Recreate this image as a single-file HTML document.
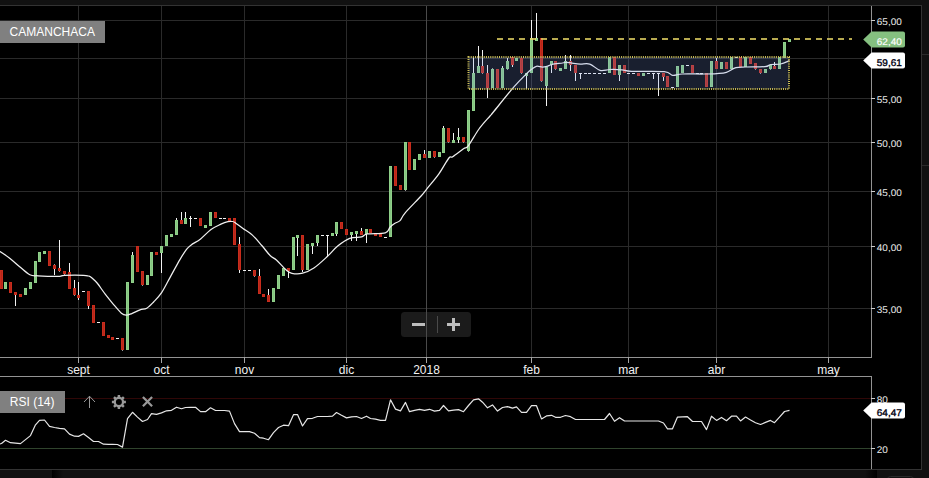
<!DOCTYPE html>
<html><head><meta charset="utf-8"><title>CAMANCHACA</title>
<style>
html,body{margin:0;padding:0;background:#000;}
body{width:929px;height:478px;overflow:hidden;font-family:"Liberation Sans",sans-serif;}
svg{display:block;}
text{font-family:"Liberation Sans",sans-serif;}
</style></head><body>
<svg width="929" height="478" viewBox="0 0 929 478">
<defs>
<linearGradient id="sh1" x1="0" x2="1" y1="0" y2="0"><stop offset="0" stop-color="#000"/><stop offset="1" stop-color="#111"/></linearGradient>
<linearGradient id="sh2" x1="0" x2="1" y1="0" y2="0"><stop offset="0" stop-color="#111"/><stop offset="1" stop-color="#000"/></linearGradient>
</defs>
<rect x="0" y="0" width="929" height="478" fill="#000"/>

<g shape-rendering="crispEdges">
<rect x="0" y="0" width="929" height="5" fill="#111"/>
<rect x="922" y="0" width="7" height="478" fill="#111"/>
<rect x="0" y="470" width="929" height="8" fill="#111"/>
<rect x="52" y="470" width="11" height="8" fill="url(#sh1)"/>
<rect x="865" y="470" width="12" height="8" fill="url(#sh2)"/>
<rect x="0" y="5" width="922" height="1" fill="#333"/>
<rect x="921" y="5" width="1" height="465" fill="#333"/>
<rect x="0" y="469" width="922" height="1" fill="#333"/>
<rect x="922" y="54" width="7" height="1" fill="#2a2a2a"/>
<rect x="922" y="165" width="7" height="1" fill="#2a2a2a"/>
</g>
<rect x="401" y="312" width="70" height="25" rx="3.5" fill="#1b1b1b"/>
<g shape-rendering="crispEdges">
<rect x="0" y="20" width="871" height="1" fill="#2a2a2a"/>
<rect x="0" y="58" width="871" height="1" fill="#2a2a2a"/>
<rect x="0" y="98" width="871" height="1" fill="#2a2a2a"/>
<rect x="0" y="142" width="871" height="1" fill="#2a2a2a"/>
<rect x="0" y="191" width="871" height="1" fill="#2a2a2a"/>
<rect x="0" y="246" width="871" height="1" fill="#2a2a2a"/>
<rect x="0" y="308" width="871" height="1" fill="#2a2a2a"/>
<rect x="78" y="6" width="1" height="351" fill="#2a2a2a"/>
<rect x="161" y="6" width="1" height="351" fill="#2a2a2a"/>
<rect x="244" y="6" width="1" height="351" fill="#2a2a2a"/>
<rect x="346" y="6" width="1" height="351" fill="#2a2a2a"/>
<rect x="426" y="6" width="1" height="351" fill="#4a4a4a"/>
<rect x="531" y="6" width="1" height="351" fill="#2a2a2a"/>
<rect x="628" y="6" width="1" height="351" fill="#2a2a2a"/>
<rect x="716" y="6" width="1" height="351" fill="#2a2a2a"/>
<rect x="828" y="6" width="1" height="351" fill="#2a2a2a"/>
<rect x="412" y="323" width="13" height="3" fill="#bdbdbd"/>
<rect x="437" y="316" width="1" height="17" fill="#4a4a4a"/>
<rect x="447" y="323" width="13" height="3" fill="#bdbdbd"/>
<rect x="452" y="318" width="3" height="13" fill="#bdbdbd"/>
<rect x="0" y="398" width="871" height="1" fill="#300707"/>
<rect x="0" y="448" width="871" height="1" fill="#30442d"/>
<rect x="0" y="270" width="3" height="19" fill="#c92c1c"/>
<rect x="1" y="271" width="1" height="17" fill="#b5271a"/>
<rect x="4" y="282" width="3" height="7" fill="#8fd089"/>
<rect x="5" y="283" width="1" height="5" fill="#84c380"/>
<rect x="9" y="282" width="3" height="11" fill="#c92c1c"/>
<rect x="10" y="283" width="1" height="9" fill="#b5271a"/>
<rect x="15" y="295" width="1" height="11" fill="#f2f2f2"/>
<rect x="14" y="292" width="3" height="3" fill="#c92c1c"/>
<rect x="15" y="293" width="1" height="1" fill="#b5271a"/>
<rect x="19" y="294" width="3" height="3" fill="#c92c1c"/>
<rect x="20" y="295" width="1" height="1" fill="#b5271a"/>
<rect x="24" y="288" width="3" height="7" fill="#8fd089"/>
<rect x="25" y="289" width="1" height="5" fill="#84c380"/>
<rect x="29" y="282" width="3" height="7" fill="#8fd089"/>
<rect x="30" y="283" width="1" height="5" fill="#84c380"/>
<rect x="34" y="261" width="3" height="22" fill="#8fd089"/>
<rect x="35" y="262" width="1" height="20" fill="#84c380"/>
<rect x="38" y="252" width="3" height="10" fill="#8fd089"/>
<rect x="39" y="253" width="1" height="8" fill="#84c380"/>
<rect x="43" y="251" width="3" height="3" fill="#8fd089"/>
<rect x="44" y="252" width="1" height="1" fill="#84c380"/>
<rect x="48" y="251" width="3" height="15" fill="#c92c1c"/>
<rect x="49" y="252" width="1" height="13" fill="#b5271a"/>
<rect x="54" y="264" width="1" height="1" fill="#9a9a9a"/>
<rect x="54" y="269" width="1" height="6" fill="#f2f2f2"/>
<rect x="53" y="265" width="3" height="4" fill="#c92c1c"/>
<rect x="54" y="266" width="1" height="2" fill="#b5271a"/>
<rect x="59" y="240" width="1" height="28" fill="#f2f2f2"/>
<rect x="59" y="271" width="1" height="1" fill="#9a9a9a"/>
<rect x="58" y="268" width="3" height="3" fill="#c92c1c"/>
<rect x="59" y="269" width="1" height="1" fill="#b5271a"/>
<rect x="64" y="274" width="1" height="1" fill="#9a9a9a"/>
<rect x="63" y="271" width="3" height="3" fill="#c92c1c"/>
<rect x="64" y="272" width="1" height="1" fill="#b5271a"/>
<rect x="69" y="263" width="1" height="9" fill="#f2f2f2"/>
<rect x="68" y="272" width="3" height="17" fill="#c92c1c"/>
<rect x="69" y="273" width="1" height="15" fill="#b5271a"/>
<rect x="74" y="280" width="1" height="8" fill="#f2f2f2"/>
<rect x="74" y="295" width="1" height="1" fill="#9a9a9a"/>
<rect x="73" y="288" width="3" height="7" fill="#c92c1c"/>
<rect x="74" y="289" width="1" height="5" fill="#b5271a"/>
<rect x="78" y="282" width="1" height="13" fill="#f2f2f2"/>
<rect x="78" y="298" width="1" height="2" fill="#f2f2f2"/>
<rect x="77" y="295" width="3" height="3" fill="#c92c1c"/>
<rect x="78" y="296" width="1" height="1" fill="#b5271a"/>
<rect x="82" y="291" width="3" height="1" fill="#f2f2f2"/>
<rect x="88" y="306" width="1" height="3" fill="#f2f2f2"/>
<rect x="87" y="291" width="3" height="15" fill="#c92c1c"/>
<rect x="88" y="292" width="1" height="13" fill="#b5271a"/>
<rect x="92" y="305" width="3" height="18" fill="#c92c1c"/>
<rect x="93" y="306" width="1" height="16" fill="#b5271a"/>
<rect x="97" y="322" width="3" height="1" fill="#f2f2f2"/>
<rect x="102" y="322" width="3" height="14" fill="#c92c1c"/>
<rect x="103" y="323" width="1" height="12" fill="#b5271a"/>
<rect x="107" y="335" width="3" height="3" fill="#c92c1c"/>
<rect x="108" y="336" width="1" height="1" fill="#b5271a"/>
<rect x="111" y="337" width="3" height="3" fill="#c92c1c"/>
<rect x="112" y="338" width="1" height="1" fill="#b5271a"/>
<rect x="116" y="338" width="3" height="1" fill="#f2f2f2"/>
<rect x="122" y="350" width="1" height="1" fill="#9a9a9a"/>
<rect x="121" y="338" width="3" height="12" fill="#c92c1c"/>
<rect x="122" y="339" width="1" height="10" fill="#b5271a"/>
<rect x="126" y="282" width="3" height="68" fill="#8fd089"/>
<rect x="127" y="283" width="1" height="66" fill="#84c380"/>
<rect x="132" y="252" width="1" height="3" fill="#f2f2f2"/>
<rect x="131" y="255" width="3" height="28" fill="#8fd089"/>
<rect x="132" y="256" width="1" height="26" fill="#84c380"/>
<rect x="136" y="246" width="3" height="26" fill="#c92c1c"/>
<rect x="137" y="247" width="1" height="24" fill="#b5271a"/>
<rect x="142" y="285" width="1" height="1" fill="#9a9a9a"/>
<rect x="141" y="271" width="3" height="14" fill="#c92c1c"/>
<rect x="142" y="272" width="1" height="12" fill="#b5271a"/>
<rect x="146" y="275" width="3" height="10" fill="#8fd089"/>
<rect x="147" y="276" width="1" height="8" fill="#84c380"/>
<rect x="150" y="252" width="3" height="24" fill="#8fd089"/>
<rect x="151" y="253" width="1" height="22" fill="#84c380"/>
<rect x="155" y="252" width="3" height="3" fill="#c92c1c"/>
<rect x="156" y="253" width="1" height="1" fill="#b5271a"/>
<rect x="161" y="253" width="1" height="20" fill="#f2f2f2"/>
<rect x="160" y="246" width="3" height="7" fill="#8fd089"/>
<rect x="161" y="247" width="1" height="5" fill="#84c380"/>
<rect x="165" y="235" width="3" height="11" fill="#8fd089"/>
<rect x="166" y="236" width="1" height="9" fill="#84c380"/>
<rect x="170" y="234" width="3" height="3" fill="#8fd089"/>
<rect x="171" y="235" width="1" height="1" fill="#84c380"/>
<rect x="176" y="218" width="1" height="2" fill="#f2f2f2"/>
<rect x="175" y="220" width="3" height="15" fill="#8fd089"/>
<rect x="176" y="221" width="1" height="13" fill="#84c380"/>
<rect x="181" y="212" width="1" height="8" fill="#f2f2f2"/>
<rect x="180" y="220" width="3" height="4" fill="#c92c1c"/>
<rect x="181" y="221" width="1" height="2" fill="#b5271a"/>
<rect x="185" y="212" width="1" height="6" fill="#f2f2f2"/>
<rect x="184" y="218" width="3" height="6" fill="#8fd089"/>
<rect x="185" y="219" width="1" height="4" fill="#84c380"/>
<rect x="190" y="216" width="1" height="11" fill="#f2f2f2"/>
<rect x="189" y="218" width="3" height="1" fill="#f2f2f2"/>
<rect x="194" y="218" width="3" height="1" fill="#f2f2f2"/>
<rect x="199" y="218" width="3" height="8" fill="#c92c1c"/>
<rect x="200" y="219" width="1" height="6" fill="#b5271a"/>
<rect x="204" y="225" width="3" height="3" fill="#8fd089"/>
<rect x="205" y="226" width="1" height="1" fill="#84c380"/>
<rect x="209" y="212" width="3" height="14" fill="#8fd089"/>
<rect x="210" y="213" width="1" height="12" fill="#84c380"/>
<rect x="214" y="212" width="3" height="6" fill="#c92c1c"/>
<rect x="215" y="213" width="1" height="4" fill="#b5271a"/>
<rect x="219" y="218" width="3" height="1" fill="#f2f2f2"/>
<rect x="223" y="218" width="3" height="1" fill="#f2f2f2"/>
<rect x="228" y="218" width="3" height="3" fill="#c92c1c"/>
<rect x="229" y="219" width="1" height="1" fill="#b5271a"/>
<rect x="233" y="218" width="3" height="27" fill="#c92c1c"/>
<rect x="234" y="219" width="1" height="25" fill="#b5271a"/>
<rect x="239" y="237" width="1" height="7" fill="#f2f2f2"/>
<rect x="239" y="270" width="1" height="3" fill="#f2f2f2"/>
<rect x="238" y="244" width="3" height="26" fill="#c92c1c"/>
<rect x="239" y="245" width="1" height="24" fill="#b5271a"/>
<rect x="243" y="270" width="3" height="1" fill="#f2f2f2"/>
<rect x="248" y="270" width="3" height="1" fill="#f2f2f2"/>
<rect x="254" y="276" width="1" height="1" fill="#9a9a9a"/>
<rect x="253" y="270" width="3" height="6" fill="#c92c1c"/>
<rect x="254" y="271" width="1" height="4" fill="#b5271a"/>
<rect x="259" y="269" width="1" height="7" fill="#f2f2f2"/>
<rect x="258" y="276" width="3" height="18" fill="#c92c1c"/>
<rect x="259" y="277" width="1" height="16" fill="#b5271a"/>
<rect x="262" y="294" width="3" height="3" fill="#c92c1c"/>
<rect x="263" y="295" width="1" height="1" fill="#b5271a"/>
<rect x="268" y="289" width="1" height="6" fill="#f2f2f2"/>
<rect x="267" y="295" width="3" height="7" fill="#c92c1c"/>
<rect x="268" y="296" width="1" height="5" fill="#b5271a"/>
<rect x="272" y="288" width="3" height="14" fill="#8fd089"/>
<rect x="273" y="289" width="1" height="12" fill="#84c380"/>
<rect x="277" y="275" width="3" height="14" fill="#8fd089"/>
<rect x="278" y="276" width="1" height="12" fill="#84c380"/>
<rect x="282" y="268" width="3" height="8" fill="#8fd089"/>
<rect x="283" y="269" width="1" height="6" fill="#84c380"/>
<rect x="288" y="271" width="1" height="7" fill="#f2f2f2"/>
<rect x="287" y="268" width="3" height="3" fill="#c92c1c"/>
<rect x="288" y="269" width="1" height="1" fill="#b5271a"/>
<rect x="292" y="237" width="3" height="33" fill="#8fd089"/>
<rect x="293" y="238" width="1" height="31" fill="#84c380"/>
<rect x="297" y="238" width="1" height="18" fill="#f2f2f2"/>
<rect x="296" y="235" width="3" height="3" fill="#8fd089"/>
<rect x="297" y="236" width="1" height="1" fill="#84c380"/>
<rect x="302" y="270" width="1" height="2" fill="#f2f2f2"/>
<rect x="301" y="235" width="3" height="35" fill="#c92c1c"/>
<rect x="302" y="236" width="1" height="33" fill="#b5271a"/>
<rect x="306" y="244" width="3" height="26" fill="#8fd089"/>
<rect x="307" y="245" width="1" height="24" fill="#84c380"/>
<rect x="312" y="246" width="1" height="8" fill="#f2f2f2"/>
<rect x="311" y="243" width="3" height="3" fill="#8fd089"/>
<rect x="312" y="244" width="1" height="1" fill="#84c380"/>
<rect x="317" y="243" width="1" height="3" fill="#f2f2f2"/>
<rect x="316" y="235" width="3" height="8" fill="#8fd089"/>
<rect x="317" y="236" width="1" height="6" fill="#84c380"/>
<rect x="321" y="235" width="3" height="1" fill="#f2f2f2"/>
<rect x="327" y="235" width="1" height="22" fill="#f2f2f2"/>
<rect x="326" y="235" width="3" height="1" fill="#f2f2f2"/>
<rect x="331" y="233" width="3" height="3" fill="#8fd089"/>
<rect x="332" y="234" width="1" height="1" fill="#84c380"/>
<rect x="336" y="234" width="1" height="2" fill="#f2f2f2"/>
<rect x="335" y="222" width="3" height="12" fill="#8fd089"/>
<rect x="336" y="223" width="1" height="10" fill="#84c380"/>
<rect x="340" y="222" width="3" height="7" fill="#c92c1c"/>
<rect x="341" y="223" width="1" height="5" fill="#b5271a"/>
<rect x="345" y="229" width="3" height="6" fill="#c92c1c"/>
<rect x="346" y="230" width="1" height="4" fill="#b5271a"/>
<rect x="351" y="235" width="1" height="6" fill="#f2f2f2"/>
<rect x="350" y="232" width="3" height="3" fill="#8fd089"/>
<rect x="351" y="233" width="1" height="1" fill="#84c380"/>
<rect x="356" y="234" width="1" height="7" fill="#f2f2f2"/>
<rect x="355" y="231" width="3" height="3" fill="#8fd089"/>
<rect x="356" y="232" width="1" height="1" fill="#84c380"/>
<rect x="361" y="228" width="1" height="3" fill="#f2f2f2"/>
<rect x="360" y="231" width="3" height="4" fill="#c92c1c"/>
<rect x="361" y="232" width="1" height="2" fill="#b5271a"/>
<rect x="366" y="234" width="1" height="9" fill="#f2f2f2"/>
<rect x="365" y="229" width="3" height="5" fill="#8fd089"/>
<rect x="366" y="230" width="1" height="3" fill="#84c380"/>
<rect x="369" y="229" width="3" height="4" fill="#c92c1c"/>
<rect x="370" y="230" width="1" height="2" fill="#b5271a"/>
<rect x="374" y="233" width="3" height="3" fill="#c92c1c"/>
<rect x="375" y="234" width="1" height="1" fill="#b5271a"/>
<rect x="379" y="234" width="3" height="3" fill="#c92c1c"/>
<rect x="380" y="235" width="1" height="1" fill="#b5271a"/>
<rect x="384" y="237" width="3" height="1" fill="#f2f2f2"/>
<rect x="389" y="166" width="3" height="71" fill="#8fd089"/>
<rect x="390" y="167" width="1" height="69" fill="#84c380"/>
<rect x="394" y="166" width="3" height="20" fill="#c92c1c"/>
<rect x="395" y="167" width="1" height="18" fill="#b5271a"/>
<rect x="399" y="185" width="3" height="5" fill="#c92c1c"/>
<rect x="400" y="186" width="1" height="3" fill="#b5271a"/>
<rect x="405" y="190" width="1" height="1" fill="#9a9a9a"/>
<rect x="404" y="142" width="3" height="48" fill="#8fd089"/>
<rect x="405" y="143" width="1" height="46" fill="#84c380"/>
<rect x="408" y="142" width="3" height="28" fill="#c92c1c"/>
<rect x="409" y="143" width="1" height="26" fill="#b5271a"/>
<rect x="413" y="159" width="3" height="11" fill="#8fd089"/>
<rect x="414" y="160" width="1" height="9" fill="#84c380"/>
<rect x="418" y="154" width="3" height="6" fill="#8fd089"/>
<rect x="419" y="155" width="1" height="4" fill="#84c380"/>
<rect x="424" y="150" width="1" height="4" fill="#f2f2f2"/>
<rect x="423" y="154" width="3" height="4" fill="#c92c1c"/>
<rect x="424" y="155" width="1" height="2" fill="#b5271a"/>
<rect x="428" y="151" width="3" height="7" fill="#8fd089"/>
<rect x="429" y="152" width="1" height="5" fill="#84c380"/>
<rect x="434" y="157" width="1" height="1" fill="#9a9a9a"/>
<rect x="433" y="151" width="3" height="6" fill="#c92c1c"/>
<rect x="434" y="152" width="1" height="4" fill="#b5271a"/>
<rect x="438" y="152" width="3" height="5" fill="#8fd089"/>
<rect x="439" y="153" width="1" height="3" fill="#84c380"/>
<rect x="443" y="126" width="1" height="2" fill="#f2f2f2"/>
<rect x="442" y="128" width="3" height="25" fill="#8fd089"/>
<rect x="443" y="129" width="1" height="23" fill="#84c380"/>
<rect x="448" y="142" width="1" height="1" fill="#9a9a9a"/>
<rect x="447" y="128" width="3" height="14" fill="#c92c1c"/>
<rect x="448" y="129" width="1" height="12" fill="#b5271a"/>
<rect x="453" y="133" width="1" height="7" fill="#f2f2f2"/>
<rect x="452" y="140" width="3" height="3" fill="#8fd089"/>
<rect x="453" y="141" width="1" height="1" fill="#84c380"/>
<rect x="458" y="128" width="1" height="9" fill="#f2f2f2"/>
<rect x="458" y="140" width="1" height="3" fill="#f2f2f2"/>
<rect x="457" y="137" width="3" height="3" fill="#8fd089"/>
<rect x="458" y="138" width="1" height="1" fill="#84c380"/>
<rect x="463" y="142" width="1" height="1" fill="#9a9a9a"/>
<rect x="462" y="137" width="3" height="5" fill="#c92c1c"/>
<rect x="463" y="138" width="1" height="3" fill="#b5271a"/>
<rect x="468" y="151" width="1" height="1" fill="#9a9a9a"/>
<rect x="467" y="110" width="3" height="41" fill="#8fd089"/>
<rect x="468" y="111" width="1" height="39" fill="#84c380"/>
<rect x="473" y="57" width="1" height="16" fill="#f2f2f2"/>
<rect x="472" y="73" width="3" height="38" fill="#8fd089"/>
<rect x="473" y="74" width="1" height="36" fill="#84c380"/>
<rect x="478" y="46" width="1" height="20" fill="#f2f2f2"/>
<rect x="477" y="66" width="3" height="7" fill="#8fd089"/>
<rect x="478" y="67" width="1" height="5" fill="#84c380"/>
<rect x="482" y="50" width="1" height="16" fill="#f2f2f2"/>
<rect x="482" y="73" width="1" height="1" fill="#9a9a9a"/>
<rect x="481" y="66" width="3" height="7" fill="#c92c1c"/>
<rect x="482" y="67" width="1" height="5" fill="#b5271a"/>
<rect x="487" y="65" width="1" height="8" fill="#f2f2f2"/>
<rect x="487" y="88" width="1" height="10" fill="#f2f2f2"/>
<rect x="486" y="73" width="3" height="15" fill="#c92c1c"/>
<rect x="487" y="74" width="1" height="13" fill="#b5271a"/>
<rect x="492" y="68" width="1" height="1" fill="#9a9a9a"/>
<rect x="491" y="69" width="3" height="19" fill="#8fd089"/>
<rect x="492" y="70" width="1" height="17" fill="#84c380"/>
<rect x="496" y="69" width="3" height="19" fill="#c92c1c"/>
<rect x="497" y="70" width="1" height="17" fill="#b5271a"/>
<rect x="502" y="66" width="1" height="2" fill="#f2f2f2"/>
<rect x="501" y="68" width="3" height="20" fill="#8fd089"/>
<rect x="502" y="69" width="1" height="18" fill="#84c380"/>
<rect x="507" y="58" width="1" height="3" fill="#f2f2f2"/>
<rect x="507" y="69" width="1" height="1" fill="#9a9a9a"/>
<rect x="506" y="61" width="3" height="8" fill="#8fd089"/>
<rect x="507" y="62" width="1" height="6" fill="#84c380"/>
<rect x="512" y="65" width="1" height="2" fill="#f2f2f2"/>
<rect x="511" y="57" width="3" height="8" fill="#c92c1c"/>
<rect x="512" y="58" width="1" height="6" fill="#b5271a"/>
<rect x="515" y="58" width="3" height="3" fill="#8fd089"/>
<rect x="516" y="59" width="1" height="1" fill="#84c380"/>
<rect x="521" y="73" width="1" height="1" fill="#9a9a9a"/>
<rect x="520" y="58" width="3" height="15" fill="#c92c1c"/>
<rect x="521" y="59" width="1" height="13" fill="#b5271a"/>
<rect x="526" y="76" width="1" height="13" fill="#f2f2f2"/>
<rect x="525" y="73" width="3" height="3" fill="#8fd089"/>
<rect x="526" y="74" width="1" height="1" fill="#84c380"/>
<rect x="531" y="20" width="1" height="18" fill="#f2f2f2"/>
<rect x="530" y="38" width="3" height="35" fill="#8fd089"/>
<rect x="531" y="39" width="1" height="33" fill="#84c380"/>
<rect x="536" y="13" width="1" height="25" fill="#f2f2f2"/>
<rect x="535" y="38" width="3" height="3" fill="#8fd089"/>
<rect x="536" y="39" width="1" height="1" fill="#84c380"/>
<rect x="541" y="81" width="1" height="1" fill="#9a9a9a"/>
<rect x="540" y="38" width="3" height="43" fill="#c92c1c"/>
<rect x="541" y="39" width="1" height="41" fill="#b5271a"/>
<rect x="546" y="86" width="1" height="20" fill="#f2f2f2"/>
<rect x="545" y="67" width="3" height="19" fill="#8fd089"/>
<rect x="546" y="68" width="1" height="17" fill="#84c380"/>
<rect x="551" y="65" width="1" height="8" fill="#f2f2f2"/>
<rect x="550" y="61" width="3" height="4" fill="#8fd089"/>
<rect x="551" y="62" width="1" height="2" fill="#84c380"/>
<rect x="555" y="69" width="1" height="1" fill="#9a9a9a"/>
<rect x="554" y="61" width="3" height="8" fill="#c92c1c"/>
<rect x="555" y="62" width="1" height="6" fill="#b5271a"/>
<rect x="559" y="68" width="3" height="3" fill="#8fd089"/>
<rect x="560" y="69" width="1" height="1" fill="#84c380"/>
<rect x="565" y="55" width="1" height="6" fill="#f2f2f2"/>
<rect x="564" y="61" width="3" height="8" fill="#8fd089"/>
<rect x="565" y="62" width="1" height="6" fill="#84c380"/>
<rect x="570" y="55" width="1" height="6" fill="#f2f2f2"/>
<rect x="570" y="65" width="1" height="6" fill="#f2f2f2"/>
<rect x="569" y="61" width="3" height="4" fill="#c92c1c"/>
<rect x="570" y="62" width="1" height="2" fill="#b5271a"/>
<rect x="575" y="73" width="1" height="8" fill="#f2f2f2"/>
<rect x="574" y="65" width="3" height="8" fill="#c92c1c"/>
<rect x="575" y="66" width="1" height="6" fill="#b5271a"/>
<rect x="580" y="73" width="1" height="6" fill="#f2f2f2"/>
<rect x="579" y="73" width="3" height="1" fill="#f2f2f2"/>
<rect x="584" y="73" width="3" height="1" fill="#f2f2f2"/>
<rect x="588" y="73" width="3" height="1" fill="#f2f2f2"/>
<rect x="593" y="73" width="3" height="1" fill="#f2f2f2"/>
<rect x="598" y="73" width="3" height="1" fill="#f2f2f2"/>
<rect x="603" y="73" width="3" height="1" fill="#f2f2f2"/>
<rect x="608" y="57" width="3" height="16" fill="#8fd089"/>
<rect x="609" y="58" width="1" height="14" fill="#84c380"/>
<rect x="613" y="57" width="3" height="18" fill="#c92c1c"/>
<rect x="614" y="58" width="1" height="16" fill="#b5271a"/>
<rect x="619" y="75" width="1" height="6" fill="#f2f2f2"/>
<rect x="618" y="65" width="3" height="10" fill="#8fd089"/>
<rect x="619" y="66" width="1" height="8" fill="#84c380"/>
<rect x="623" y="65" width="3" height="8" fill="#c92c1c"/>
<rect x="624" y="66" width="1" height="6" fill="#b5271a"/>
<rect x="627" y="73" width="3" height="1" fill="#f2f2f2"/>
<rect x="632" y="73" width="3" height="1" fill="#f2f2f2"/>
<rect x="637" y="73" width="3" height="3" fill="#c92c1c"/>
<rect x="638" y="74" width="1" height="1" fill="#b5271a"/>
<rect x="642" y="73" width="3" height="3" fill="#8fd089"/>
<rect x="643" y="74" width="1" height="1" fill="#84c380"/>
<rect x="647" y="73" width="3" height="1" fill="#f2f2f2"/>
<rect x="653" y="73" width="1" height="6" fill="#f2f2f2"/>
<rect x="652" y="73" width="3" height="1" fill="#f2f2f2"/>
<rect x="658" y="73" width="1" height="23" fill="#f2f2f2"/>
<rect x="657" y="73" width="3" height="1" fill="#f2f2f2"/>
<rect x="663" y="77" width="1" height="4" fill="#f2f2f2"/>
<rect x="662" y="73" width="3" height="4" fill="#c92c1c"/>
<rect x="663" y="74" width="1" height="2" fill="#b5271a"/>
<rect x="666" y="76" width="3" height="11" fill="#c92c1c"/>
<rect x="667" y="77" width="1" height="9" fill="#b5271a"/>
<rect x="671" y="87" width="3" height="1" fill="#f2f2f2"/>
<rect x="676" y="66" width="3" height="21" fill="#8fd089"/>
<rect x="677" y="67" width="1" height="19" fill="#84c380"/>
<rect x="681" y="65" width="3" height="8" fill="#8fd089"/>
<rect x="682" y="66" width="1" height="6" fill="#84c380"/>
<rect x="686" y="65" width="3" height="1" fill="#f2f2f2"/>
<rect x="691" y="65" width="3" height="8" fill="#c92c1c"/>
<rect x="692" y="66" width="1" height="6" fill="#b5271a"/>
<rect x="696" y="73" width="3" height="1" fill="#f2f2f2"/>
<rect x="700" y="73" width="3" height="1" fill="#f2f2f2"/>
<rect x="705" y="73" width="3" height="14" fill="#c92c1c"/>
<rect x="706" y="74" width="1" height="12" fill="#b5271a"/>
<rect x="710" y="61" width="3" height="26" fill="#8fd089"/>
<rect x="711" y="62" width="1" height="24" fill="#84c380"/>
<rect x="716" y="58" width="1" height="3" fill="#f2f2f2"/>
<rect x="715" y="61" width="3" height="8" fill="#c92c1c"/>
<rect x="716" y="62" width="1" height="6" fill="#b5271a"/>
<rect x="720" y="62" width="3" height="7" fill="#8fd089"/>
<rect x="721" y="63" width="1" height="5" fill="#84c380"/>
<rect x="725" y="62" width="3" height="7" fill="#c92c1c"/>
<rect x="726" y="63" width="1" height="5" fill="#b5271a"/>
<rect x="730" y="57" width="3" height="12" fill="#8fd089"/>
<rect x="731" y="58" width="1" height="10" fill="#84c380"/>
<rect x="735" y="57" width="3" height="1" fill="#f2f2f2"/>
<rect x="739" y="57" width="3" height="10" fill="#c92c1c"/>
<rect x="740" y="58" width="1" height="8" fill="#b5271a"/>
<rect x="744" y="57" width="3" height="10" fill="#8fd089"/>
<rect x="745" y="58" width="1" height="8" fill="#84c380"/>
<rect x="749" y="57" width="3" height="7" fill="#c92c1c"/>
<rect x="750" y="58" width="1" height="5" fill="#b5271a"/>
<rect x="755" y="69" width="1" height="1" fill="#9a9a9a"/>
<rect x="754" y="63" width="3" height="6" fill="#c92c1c"/>
<rect x="755" y="64" width="1" height="4" fill="#b5271a"/>
<rect x="760" y="73" width="1" height="1" fill="#9a9a9a"/>
<rect x="759" y="69" width="3" height="4" fill="#c92c1c"/>
<rect x="760" y="70" width="1" height="2" fill="#b5271a"/>
<rect x="764" y="69" width="3" height="4" fill="#8fd089"/>
<rect x="765" y="70" width="1" height="2" fill="#84c380"/>
<rect x="770" y="69" width="1" height="1" fill="#9a9a9a"/>
<rect x="769" y="65" width="3" height="4" fill="#8fd089"/>
<rect x="770" y="66" width="1" height="2" fill="#84c380"/>
<rect x="774" y="62" width="1" height="4" fill="#f2f2f2"/>
<rect x="773" y="66" width="3" height="3" fill="#c92c1c"/>
<rect x="774" y="67" width="1" height="1" fill="#b5271a"/>
<rect x="778" y="57" width="3" height="12" fill="#8fd089"/>
<rect x="779" y="58" width="1" height="10" fill="#84c380"/>
<rect x="783" y="42" width="3" height="16" fill="#8fd089"/>
<rect x="784" y="43" width="1" height="14" fill="#84c380"/>
<rect x="788" y="39" width="3" height="3" fill="#8fd089"/>
<rect x="789" y="40" width="1" height="1" fill="#84c380"/>
</g>
<path d="M-4.00,248.50 C-3.33,249.00 -2.33,249.83 0.00,251.50 C2.33,253.17 6.67,255.92 10.00,258.50 C13.33,261.08 16.70,264.28 20.00,267.00 C23.30,269.72 26.80,273.33 29.80,274.80 C32.80,276.27 35.02,275.55 38.00,275.80 C40.98,276.05 44.08,276.22 47.70,276.30 C51.32,276.38 56.92,276.45 59.70,276.30 C62.48,276.15 60.43,275.57 64.40,275.40 C68.37,275.23 79.52,275.20 83.50,275.30 C87.48,275.40 87.15,275.77 88.30,276.00 C89.45,276.23 89.28,275.90 90.40,276.70 C91.52,277.50 93.75,279.58 95.00,280.80 C96.25,282.02 96.17,281.73 97.90,284.00 C99.63,286.27 102.88,291.10 105.40,294.40 C107.92,297.70 110.33,300.67 113.00,303.80 C115.67,306.93 119.22,311.30 121.40,313.20 C123.58,315.10 124.37,315.13 126.10,315.20 C127.83,315.27 129.48,314.50 131.80,313.60 C134.12,312.70 137.50,310.70 140.00,309.80 C142.50,308.90 144.53,309.50 146.80,308.20 C149.07,306.90 151.13,304.58 153.60,302.00 C156.07,299.42 158.78,296.93 161.60,292.70 C164.42,288.47 167.45,282.12 170.50,276.60 C173.55,271.08 177.23,264.15 179.90,259.60 C182.57,255.05 184.62,251.75 186.50,249.30 C188.38,246.85 188.85,246.63 191.20,244.90 C193.55,243.17 197.30,241.47 200.60,238.90 C203.90,236.33 207.70,231.92 211.00,229.50 C214.30,227.08 217.58,225.72 220.40,224.40 C223.22,223.08 225.87,222.08 227.90,221.60 C229.93,221.12 231.33,221.28 232.60,221.50 C233.87,221.72 233.77,221.73 235.50,222.90 C237.23,224.07 240.18,226.47 243.00,228.50 C245.82,230.53 249.27,232.27 252.40,235.10 C255.53,237.93 258.85,242.10 261.80,245.50 C264.75,248.90 267.67,253.08 270.10,255.50 C272.53,257.92 273.77,257.63 276.40,260.00 C279.03,262.37 283.32,267.48 285.90,269.70 C288.48,271.92 289.12,272.72 291.90,273.30 C294.68,273.88 298.93,274.08 302.60,273.20 C306.27,272.32 309.83,270.73 313.90,268.00 C317.97,265.27 323.03,260.47 327.00,256.80 C330.97,253.13 333.92,249.08 337.70,246.00 C341.48,242.92 345.72,239.82 349.70,238.30 C353.68,236.78 358.67,237.63 361.60,236.90 C364.53,236.17 363.35,234.58 367.30,233.90 C371.25,233.22 381.52,233.92 385.30,232.80 C389.08,231.68 388.45,228.75 390.00,227.20 C391.55,225.65 392.93,224.60 394.60,223.50 C396.27,222.40 398.23,222.38 400.00,220.60 C401.77,218.82 401.68,216.90 405.20,212.80 C408.72,208.70 417.55,199.92 421.10,196.00 C424.65,192.08 423.53,192.98 426.50,189.30 C429.47,185.62 435.17,179.12 438.90,173.90 C442.63,168.68 446.60,160.85 448.90,158.00 C451.20,155.15 450.27,158.33 452.70,156.80 C455.13,155.27 460.90,150.63 463.50,148.80 C466.10,146.97 465.72,149.10 468.30,145.80 C470.88,142.50 475.38,133.97 479.00,129.00 C482.62,124.03 487.60,118.83 490.00,116.00 C492.40,113.17 489.45,116.80 493.40,112.00 C497.35,107.20 508.13,93.62 513.70,87.20 C519.27,80.78 523.82,76.48 526.80,73.50 C529.78,70.52 530.00,70.50 531.60,69.30 C533.20,68.10 534.62,66.68 536.40,66.30 C538.18,65.92 540.53,67.00 542.30,67.00 C544.07,67.00 545.38,66.72 547.00,66.30 C548.62,65.88 549.40,65.05 552.00,64.50 C554.60,63.95 560.27,63.37 562.60,63.00 C564.93,62.63 564.43,62.27 566.00,62.30 C567.57,62.33 569.62,62.90 572.00,63.20 C574.38,63.50 577.33,63.95 580.30,64.10 C583.27,64.25 586.52,63.07 589.80,64.10 C593.08,65.13 596.63,69.40 600.00,70.30 C603.37,71.20 606.33,69.58 610.00,69.50 C613.67,69.42 618.40,69.50 622.00,69.80 C625.60,70.10 624.55,71.00 631.60,71.30 C638.65,71.60 657.45,70.92 664.30,71.60 C671.15,72.28 669.72,75.00 672.70,75.40 C675.68,75.80 677.03,74.23 682.20,74.00 C687.37,73.77 697.93,74.07 703.70,74.00 C709.47,73.93 713.02,73.87 716.80,73.60 C720.58,73.33 723.22,73.38 726.40,72.40 C729.58,71.42 732.72,68.60 735.90,67.70 C739.08,66.80 740.65,67.18 745.50,67.00 C750.35,66.82 760.75,67.02 765.00,66.60 C769.25,66.18 768.40,64.93 771.00,64.50 C773.60,64.07 777.52,64.65 780.60,64.00 C783.68,63.35 788.02,61.17 789.50,60.60" fill="none" stroke="#efefef" stroke-width="1.25" stroke-linejoin="round"/>
<g shape-rendering="crispEdges">
<rect x="497" y="38" width="6" height="2" fill="#e6d464" fill-opacity="0.8"/>
<rect x="508" y="38" width="6" height="2" fill="#e6d464" fill-opacity="0.8"/>
<rect x="519" y="38" width="6" height="2" fill="#e6d464" fill-opacity="0.8"/>
<rect x="530" y="38" width="6" height="2" fill="#e6d464" fill-opacity="0.8"/>
<rect x="541" y="38" width="6" height="2" fill="#e6d464" fill-opacity="0.8"/>
<rect x="552" y="38" width="6" height="2" fill="#e6d464" fill-opacity="0.8"/>
<rect x="563" y="38" width="6" height="2" fill="#e6d464" fill-opacity="0.8"/>
<rect x="574" y="38" width="6" height="2" fill="#e6d464" fill-opacity="0.8"/>
<rect x="585" y="38" width="6" height="2" fill="#e6d464" fill-opacity="0.8"/>
<rect x="596" y="38" width="6" height="2" fill="#e6d464" fill-opacity="0.8"/>
<rect x="607" y="38" width="6" height="2" fill="#e6d464" fill-opacity="0.8"/>
<rect x="618" y="38" width="6" height="2" fill="#e6d464" fill-opacity="0.8"/>
<rect x="629" y="38" width="6" height="2" fill="#e6d464" fill-opacity="0.8"/>
<rect x="640" y="38" width="6" height="2" fill="#e6d464" fill-opacity="0.8"/>
<rect x="651" y="38" width="6" height="2" fill="#e6d464" fill-opacity="0.8"/>
<rect x="662" y="38" width="6" height="2" fill="#e6d464" fill-opacity="0.8"/>
<rect x="673" y="38" width="6" height="2" fill="#e6d464" fill-opacity="0.8"/>
<rect x="684" y="38" width="6" height="2" fill="#e6d464" fill-opacity="0.8"/>
<rect x="695" y="38" width="6" height="2" fill="#e6d464" fill-opacity="0.8"/>
<rect x="706" y="38" width="6" height="2" fill="#e6d464" fill-opacity="0.8"/>
<rect x="717" y="38" width="6" height="2" fill="#e6d464" fill-opacity="0.8"/>
<rect x="728" y="38" width="6" height="2" fill="#e6d464" fill-opacity="0.8"/>
<rect x="739" y="38" width="6" height="2" fill="#e6d464" fill-opacity="0.8"/>
<rect x="750" y="38" width="6" height="2" fill="#e6d464" fill-opacity="0.8"/>
<rect x="761" y="38" width="6" height="2" fill="#e6d464" fill-opacity="0.8"/>
<rect x="772" y="38" width="6" height="2" fill="#e6d464" fill-opacity="0.8"/>
<rect x="783" y="38" width="6" height="2" fill="#e6d464" fill-opacity="0.8"/>
<rect x="794" y="38" width="6" height="2" fill="#e6d464" fill-opacity="0.8"/>
<rect x="805" y="38" width="6" height="2" fill="#e6d464" fill-opacity="0.8"/>
<rect x="816" y="38" width="6" height="2" fill="#e6d464" fill-opacity="0.8"/>
<rect x="827" y="38" width="6" height="2" fill="#e6d464" fill-opacity="0.8"/>
<rect x="838" y="38" width="6" height="2" fill="#e6d464" fill-opacity="0.8"/>
<rect x="849" y="38" width="3" height="2" fill="#e6d464" fill-opacity="0.8"/>
</g>
<rect x="468.5" y="57" width="320.5" height="32" fill="rgb(125,155,235)" fill-opacity="0.2"/>
<rect x="468.5" y="57" width="320.5" height="32" fill="none" stroke="#cdbf58" stroke-width="2" stroke-dasharray="1 1.18"/>
<g shape-rendering="crispEdges">
<rect x="0" y="357" width="872" height="1" fill="#939393"/>
<rect x="0" y="376" width="872" height="1" fill="#939393"/>
<rect x="871" y="6" width="1" height="352" fill="#939393"/>
<rect x="871" y="376" width="1" height="93" fill="#939393"/>
<rect x="78" y="357" width="1" height="6" fill="#a6a6a6"/>
<rect x="161" y="357" width="1" height="6" fill="#a6a6a6"/>
<rect x="244" y="357" width="1" height="6" fill="#a6a6a6"/>
<rect x="346" y="357" width="1" height="6" fill="#a6a6a6"/>
<rect x="426" y="357" width="1" height="6" fill="#a6a6a6"/>
<rect x="531" y="357" width="1" height="6" fill="#a6a6a6"/>
<rect x="628" y="357" width="1" height="6" fill="#a6a6a6"/>
<rect x="716" y="357" width="1" height="6" fill="#a6a6a6"/>
<rect x="828" y="357" width="1" height="6" fill="#a6a6a6"/>
<rect x="871" y="20" width="4" height="1" fill="#ccc"/>
<rect x="871" y="58" width="4" height="1" fill="#ccc"/>
<rect x="871" y="98" width="4" height="1" fill="#ccc"/>
<rect x="871" y="142" width="4" height="1" fill="#ccc"/>
<rect x="871" y="191" width="4" height="1" fill="#ccc"/>
<rect x="871" y="246" width="4" height="1" fill="#ccc"/>
<rect x="871" y="308" width="4" height="1" fill="#ccc"/>
<rect x="871" y="398" width="4" height="1" fill="#ccc"/>
<rect x="871" y="448" width="4" height="1" fill="#ccc"/>
</g>
<text transform="translate(876.8,25) scale(1.03,1)" font-size="9.7" fill="#ececec" text-rendering="geometricPrecision">65,00</text>
<text transform="translate(876.8,103) scale(1.03,1)" font-size="9.7" fill="#ececec" text-rendering="geometricPrecision">55,00</text>
<text transform="translate(876.8,147) scale(1.03,1)" font-size="9.7" fill="#ececec" text-rendering="geometricPrecision">50,00</text>
<text transform="translate(876.8,196) scale(1.03,1)" font-size="9.7" fill="#ececec" text-rendering="geometricPrecision">45,00</text>
<text transform="translate(876.8,251) scale(1.03,1)" font-size="9.7" fill="#ececec" text-rendering="geometricPrecision">40,00</text>
<text transform="translate(876.8,313) scale(1.03,1)" font-size="9.7" fill="#ececec" text-rendering="geometricPrecision">35,00</text>
<text transform="translate(876.8,403) scale(1.03,1)" font-size="9.7" fill="#ececec" text-rendering="geometricPrecision">80</text>
<text transform="translate(876.8,453) scale(1.03,1)" font-size="9.7" fill="#ececec" text-rendering="geometricPrecision">20</text>
<text x="78.5" y="373.8" font-size="12" fill="#f2f2f2" text-anchor="middle">sept</text>
<text x="161.5" y="373.8" font-size="12" fill="#f2f2f2" text-anchor="middle">oct</text>
<text x="244.5" y="373.8" font-size="12" fill="#f2f2f2" text-anchor="middle">nov</text>
<text x="346.5" y="373.8" font-size="12" fill="#f2f2f2" text-anchor="middle">dic</text>
<text x="426.5" y="373.8" font-size="12" fill="#f2f2f2" text-anchor="middle">2018</text>
<text x="531.5" y="373.8" font-size="12" fill="#f2f2f2" text-anchor="middle">feb</text>
<text x="628.5" y="373.8" font-size="12" fill="#f2f2f2" text-anchor="middle">mar</text>
<text x="716.5" y="373.8" font-size="12" fill="#f2f2f2" text-anchor="middle">abr</text>
<text x="828.5" y="373.8" font-size="12" fill="#f2f2f2" text-anchor="middle">may</text>
<polyline points="-3.4,444.4 1.5,443.5 5.5,440.3 10.5,442.7 15.5,443.2 20.5,443.6 25.5,439.6 30.5,435.6 35.5,424.8 39.5,420.4 44.5,420.0 49.5,426.3 54.5,427.5 59.5,428.4 64.5,428.8 69.5,434.1 74.5,436.2 78.5,436.4 83.5,433.8 88.5,437.6 93.5,441.5 98.5,441.5 103.5,444.2 108.5,444.3 112.5,444.4 117.5,444.5 122.5,447.1 127.5,418.6 132.5,412.3 137.5,417.1 142.5,421.5 147.5,419.5 151.5,413.7 156.5,414.3 161.5,412.9 166.5,410.8 171.5,410.3 176.5,407.2 181.5,408.7 185.5,407.5 190.5,407.4 195.5,407.3 200.5,411.6 205.5,411.7 210.5,407.8 215.5,410.5 220.5,410.5 224.5,410.5 229.5,411.1 234.5,423.6 239.5,431.6 244.5,431.6 249.5,431.6 254.5,433.2 259.5,437.6 263.5,438.2 268.5,439.7 273.5,432.6 278.5,427.5 283.5,425.2 288.5,425.7 293.5,414.7 297.5,414.5 302.5,426.0 307.5,418.6 312.5,418.3 317.5,416.5 322.5,416.5 327.5,416.5 332.5,416.1 336.5,412.5 341.5,415.3 346.5,417.9 351.5,416.8 356.5,416.5 361.5,418.5 366.5,416.2 370.5,418.5 375.5,419.2 380.5,420.3 385.5,420.4 390.5,399.8 395.5,409.1 400.5,410.9 405.5,402.4 409.5,411.7 414.5,410.3 419.5,409.3 424.5,410.3 429.5,409.3 434.5,411.1 439.5,410.3 443.5,405.5 448.5,410.8 453.5,410.2 458.5,409.6 463.5,411.7 468.5,405.5 473.5,399.8 478.5,398.8 482.5,402.2 487.5,407.8 492.5,404.9 497.5,411.1 502.5,407.5 507.5,406.6 512.5,408.1 516.5,406.9 521.5,412.3 526.5,412.3 531.5,405.7 536.5,405.7 541.5,418.9 546.5,415.9 551.5,415.3 555.5,417.3 560.5,417.3 565.5,415.5 570.5,416.7 575.5,419.5 580.5,419.5 585.5,419.5 589.5,419.5 594.5,419.5 599.5,419.5 604.5,419.5 609.5,413.5 614.5,421.3 619.5,417.7 624.5,421.0 628.5,421.0 633.5,421.0 638.5,421.0 643.5,421.0 648.5,421.0 653.5,421.0 658.5,421.0 663.5,423.0 667.5,428.8 672.5,428.8 677.5,417.1 682.5,416.9 687.5,416.7 692.5,421.5 697.5,421.5 701.5,421.5 706.5,429.6 711.5,416.2 716.5,420.4 721.5,417.4 726.5,420.7 731.5,416.2 736.5,416.2 740.5,420.9 745.5,417.1 750.5,419.9 755.5,422.7 760.5,424.5 765.5,422.4 770.5,420.4 774.5,422.7 779.5,417.1 784.5,411.5 789.5,410.3" fill="none" stroke="#e6e6e6" stroke-width="1.2" stroke-linejoin="round"/>
<path d="M863.2,39.4 L871.6,31.4 L903,31.4 Q905,31.4 905,33.4 L905,45.4 Q905,47.4 903,47.4 L871.6,47.4 Z" fill="#85c080"/><text transform="translate(876.8,44.9) scale(1.03,1)" font-size="9.7" fill="#fff" stroke="#fff" stroke-width="0.15" text-rendering="geometricPrecision">62,40</text>
<path d="M863.2,60.6 L871.6,52.6 L903,52.6 Q905,52.6 905,54.6 L905,66.6 Q905,68.6 903,68.6 L871.6,68.6 Z" fill="#fff"/><text transform="translate(876.8,65.7) scale(1.03,1)" font-size="9.7" fill="#000010" stroke="#000010" stroke-width="0.35" text-rendering="geometricPrecision">59,61</text>
<path d="M863.2,410.5 L871.6,402.5 L903,402.5 Q905,402.5 905,404.5 L905,416.5 Q905,418.5 903,418.5 L871.6,418.5 Z" fill="#fff"/><text transform="translate(876.8,415.5) scale(1.03,1)" font-size="9.7" fill="#000010" stroke="#000010" stroke-width="0.35" text-rendering="geometricPrecision">64,47</text>
<rect x="0" y="21" width="105" height="22" fill="#808080" shape-rendering="crispEdges"/>
<text x="9.6" y="35.6" font-size="12" fill="#fff">CAMANCHACA</text>
<rect x="0" y="391" width="65" height="22" fill="#808080" shape-rendering="crispEdges"/>
<text x="9.8" y="405.7" font-size="12" fill="#fff">RSI (14)</text>
<g stroke="#999" fill="none" stroke-width="1"><path d="M89.5,396.2 V408 M84,402 L89.5,396.2 L95,402"/></g>
<path d="M117.70,395.00 L120.10,395.00 L120.21,396.86 L121.60,397.44 L123.00,396.20 L124.70,397.90 L123.46,399.30 L124.04,400.69 L125.90,400.80 L125.90,403.20 L124.04,403.31 L123.46,404.70 L124.70,406.10 L123.00,407.80 L121.60,406.56 L120.21,407.14 L120.10,409.00 L117.70,409.00 L117.59,407.14 L116.20,406.56 L114.80,407.80 L113.10,406.10 L114.34,404.70 L113.76,403.31 L111.90,403.20 L111.90,400.80 L113.76,400.69 L114.34,399.30 L113.10,397.90 L114.80,396.20 L116.20,397.44 L117.59,396.86 Z M121.90,402.00 A3.0,3.0 0 1,0 115.90,402.00 A3.0,3.0 0 1,0 121.90,402.00 Z" fill="#999" fill-rule="evenodd"/>
<path d="M142.9,396.9 L152.1,406.3 M152.1,396.9 L142.9,406.3" stroke="#999" stroke-width="2.2" fill="none"/>
<rect x="887.5" y="476.5" width="26" height="8" rx="3" fill="none" stroke="#2a2a2a" stroke-width="1"/>
</svg>
</body></html>
